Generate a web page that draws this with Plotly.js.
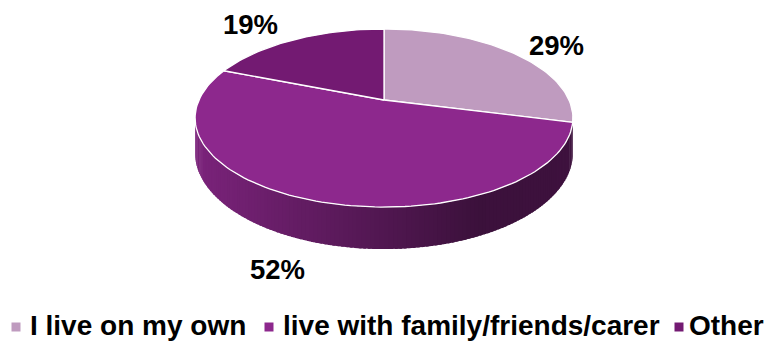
<!DOCTYPE html>
<html><head><meta charset="utf-8">
<script src="https://cdn.plot.ly/plotly-3.0.1.min.js"></script>
<style>html,body{margin:0;padding:0;background:#fff;} #chart{width:774px;height:345px;}</style>
</head><body><div id="chart"></div>
<script>
// ---- data ----
const categories = ['I live on my own', 'live with family/friends/carer', 'Other'];
const shares = [29, 52, 19];
const sliceLabels = ['29%', '52%', '19%'];
const sliceColors = ['#bf9bbf', '#8d288d', '#731a72'];

// ---- geometry / style (pixel units on fixed axes) ----
const W = 774, H = 345;
const CX = 384, CY = 100, RX = 185, RY = 85.4, PERSP = 4.94, DEPTH = 33.5;
const labelPos = [[556, 45], [277, 269], [250, 24]];
const legendMarkX = [16, 269, 679], legendTextX = [30, 283, 689], legendY = 325, legendMarkY = 327;
const FONT = 'Liberation Sans, Arial, sans-serif';

function proj(t, z) { // t: degrees clockwise from top
  const r = t * Math.PI / 180, u = Math.sin(r), v = Math.cos(r), s = PERSP / (PERSP + v);
  return [CX + RX * u * s, CY - RY * v * s + z * s];
}
function shade(hex, f) {
  const n = parseInt(hex.slice(1), 16);
  const c = [(n >> 16) & 255, (n >> 8) & 255, n & 255].map(x => Math.round(Math.min(255, x * f)));
  return 'rgb(' + c.join(',') + ')';
}

const total = shares.reduce((a, b) => a + b, 0);
const bounds = [];
let acc = 0;
shares.forEach(v => { const a0 = acc / total * 360; acc += v; bounds.push([a0, acc / total * 360]); });
function sliceAt(t) { for (let i = 0; i < bounds.length; i++) if (t >= bounds[i][0] && t < bounds[i][1]) return i; return bounds.length - 1; }

const traces = [];
// side wall (front visible half)
const tStart = Math.acos(-1 / PERSP) * 180 / Math.PI, tEnd = 360 - tStart;
const N = 140;
const xMin = CX - RX * 1.02, xSpan = 2 * RX * 1.02;
const dt = (tEnd - tStart) / N;
for (let k = 0; k < N; k++) {
  const ta = tStart + dt * k, tb = Math.min(tEnd, ta + dt * 1.6);
  const si = sliceAt(ta + dt / 2);
  const steps = 3, xs = [], ys = [];
  for (let j = 0; j <= steps; j++) { const p = proj(ta + (tb - ta) * j / steps, 0); xs.push(p[0]); ys.push(p[1]); }
  for (let j = steps; j >= 0; j--) { const p = proj(ta + (tb - ta) * j / steps, DEPTH); xs.push(p[0]); ys.push(p[1]); }
  xs.push(xs[0]); ys.push(ys[0]);
  const mid = proj(ta + dt / 2, 0)[0];
  const fx = (mid - xMin) / xSpan;
  const f = fx < 0.75 ? 0.87 - (0.87 - 0.42) * fx / 0.75 : 0.42 + (fx - 0.75) * 0.08;
  const col = shade(sliceColors[si], f);
  traces.push({ x: xs, y: ys, type: 'scatter', mode: 'lines', fill: 'toself', fillcolor: col,
    line: { width: 0 }, hoverinfo: 'skip', showlegend: false });
}
// top face slices
shares.forEach((v, i) => {
  const [a0, a1] = bounds[i];
  const xs = [CX], ys = [CY];
  const n = Math.max(8, Math.round((a1 - a0) / 1.5));
  for (let j = 0; j <= n; j++) { const p = proj(a0 + (a1 - a0) * j / n, 0); xs.push(p[0]); ys.push(p[1]); }
  xs.push(CX); ys.push(CY);
  traces.push({ x: xs, y: ys, type: 'scatter', mode: 'lines', fill: 'toself', fillcolor: sliceColors[i],
    line: { color: '#ffffff', width: 1.3 }, name: categories[i], hoverinfo: 'skip', showlegend: false });
});
// legend markers
traces.push({ x: legendMarkX, y: legendMarkX.map(() => legendMarkY), type: 'scatter', mode: 'markers',
  marker: { symbol: 'square', size: 9, color: sliceColors }, hoverinfo: 'skip', showlegend: false });

const annotations = [];
sliceLabels.forEach((t, i) => annotations.push({ x: labelPos[i][0], y: labelPos[i][1], text: t, showarrow: false,
  xanchor: 'center', yanchor: 'middle', font: { family: FONT, size: 27.5, color: '#000', weight: 'bold' } }));
categories.forEach((c, i) => annotations.push({ x: legendTextX[i], y: legendY, text: c, showarrow: false,
  xanchor: 'left', yanchor: 'middle', xshift: -2, font: { family: FONT, size: 28, color: '#000', weight: 'bold' } }));

const layout = {
  width: W, height: H, margin: { l: 0, r: 0, t: 0, b: 0 },
  paper_bgcolor: '#ffffff', plot_bgcolor: '#ffffff', showlegend: false,
  xaxis: { range: [0, W], visible: false, fixedrange: true },
  yaxis: { range: [H, 0], visible: false, fixedrange: true },
  annotations: annotations
};
Plotly.newPlot('chart', traces, layout, { staticPlot: true, displayModeBar: false });
</script></body></html>
